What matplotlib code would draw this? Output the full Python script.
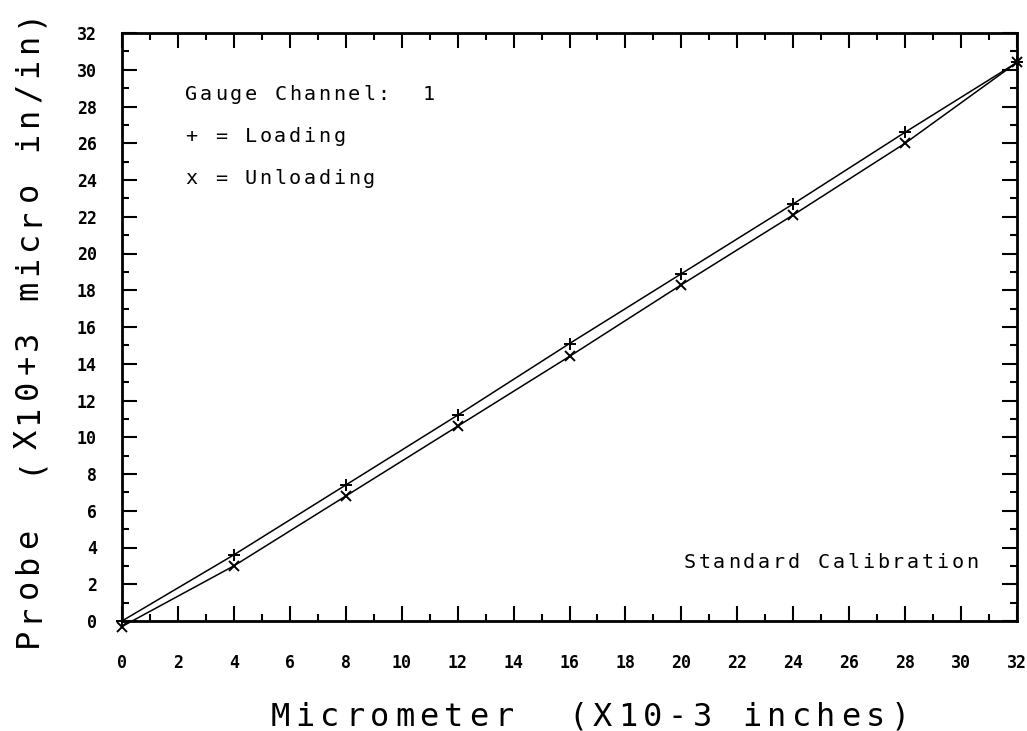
import numpy as np
import matplotlib.pyplot as plt
from matplotlib.ticker import MultipleLocator

# micrometer reading (X10-3 inches)
micrometer = [0, 4, 8, 12, 16, 20, 24, 28, 32]
# probe reading (X10+3 micro in/in)
loading = [0.0, 3.6, 7.4, 11.2, 15.1, 18.9, 22.7, 26.6, 30.4]
unloading = [-0.3, 3.0, 6.8, 10.6, 14.4, 18.3, 22.1, 26.0, 30.4]

xticks = list(range(0, 33, 2))
yticks = list(range(0, 33, 2))

xlabel = "Micrometer  (X10-3 inches)"
ylabel = "Probe  (X10+3 micro in/in)"
notes = ["Gauge Channel:  1", "+ = Loading", "x = Unloading"]
footnote = "Standard Calibration"

mono = "DejaVu Sans Mono"
W, H = 1027, 731

fig = plt.figure(figsize=(W / 100, H / 100), dpi=100)
ax = fig.add_axes([122 / W, 1 - 621 / H, 895 / W, 588 / H])


def spaced(s, x0, y0, pitch, size, vertical=False, **kw):
    # plotter style text: one glyph per fixed cell, positions in pixels from top-left
    for i, ch in enumerate(s):
        if ch == " ":
            continue
        if vertical:
            fig.text(x0 / W, 1 - (y0 - pitch / 2 - i * pitch) / H, ch, rotation=90,
                     rotation_mode="anchor", ha="center", va="baseline",
                     fontsize=size, family=mono, **kw)
        else:
            fig.text((x0 + pitch / 2 + i * pitch) / W, 1 - y0 / H, ch,
                     ha="center", va="baseline", fontsize=size, family=mono, **kw)


ax.plot(micrometer, loading, color="black", lw=1.1, marker="+", ms=9, mew=1.4,
        clip_on=False)
ax.plot(micrometer, unloading, color="black", lw=1.1, marker="x", ms=7, mew=1.4,
        clip_on=False)

ax.set_xlim(0, 32)
ax.set_ylim(0, 32)
ax.set_xticks(xticks)
ax.set_yticks(yticks)
ax.xaxis.set_minor_locator(MultipleLocator(1))
ax.yaxis.set_minor_locator(MultipleLocator(1))
ax.tick_params(which="both", direction="in", top=True, right=True,
               width=1.5, labelsize=12, colors="black")
ax.tick_params(which="major", length=11)
ax.tick_params(which="minor", length=5)
ax.tick_params(axis="x", pad=24)
ax.tick_params(axis="y", pad=18)
for lab in ax.get_xticklabels() + ax.get_yticklabels():
    lab.set_fontfamily(mono)
    lab.set_fontweight("bold")
for s in ax.spines.values():
    s.set_linewidth(2)

spaced(xlabel, 268, 726, 24.8, 23)
spaced(ylabel, 37, 650, 24.8, 23, vertical=True)

for k, line in enumerate(notes):
    spaced(line, 184, [100, 142, 184][k], 14.8, 14.5)
spaced(footnote, 682, 568, 14.9, 14.5)

fig.savefig("out.png", dpi=100)
